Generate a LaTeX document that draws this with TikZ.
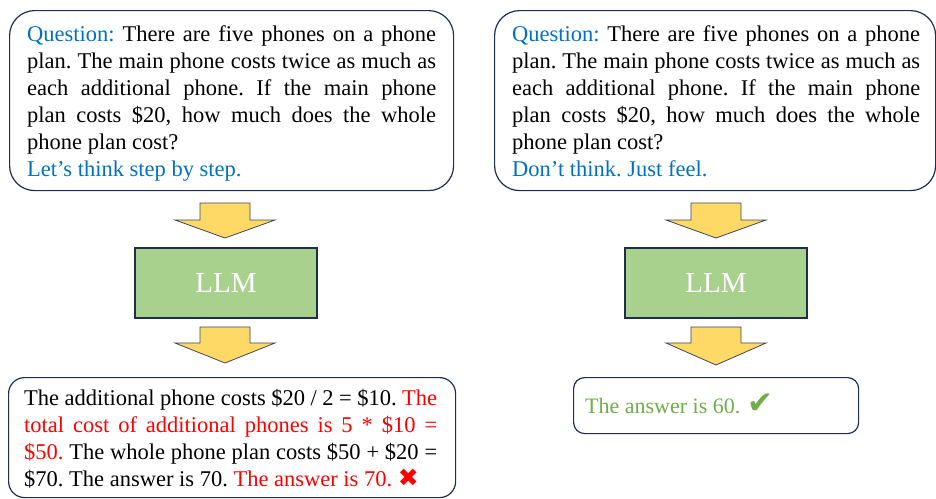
\documentclass[tikz,border=0pt]{standalone}
\usepackage{fontspec}
\setmainfont{Liberation Serif}
\newfontfamily\symfont{DejaVu Sans}
\usetikzlibrary{calc}
\definecolor{qblue}{HTML}{0070C0}
\definecolor{ansred}{HTML}{FF0000}
\definecolor{ansgreen}{HTML}{70AD47}
\definecolor{edge}{HTML}{1F2D4F}
\definecolor{llmfill}{HTML}{A9D18E}
\definecolor{arrfill}{HTML}{FFD966}
\definecolor{arredge}{HTML}{3A4660}
\newcommand\jset{\hyphenpenalty10000 \parindent0pt \frenchspacing}
\begin{document}
\begin{tikzpicture}[x=1pt,y=-1pt,
  roundbox/.style={draw=edge,line width=1.2pt,anchor=north west,inner sep=0pt},
  txt/.style={anchor=north west,inner sep=0pt,text width=#1,align=justify,
    font=\fontsize{22.5}{27}\selectfont\jset},
  llm/.style={draw=edge,fill=llmfill,line width=1.2pt,minimum width=182pt,minimum height=70pt,
    text=white,font=\fontsize{29}{30}\selectfont,inner sep=0pt},
  blockarrow/.style={draw=arredge,fill=arrfill,line width=0.8pt,line join=miter}]
\useasboundingbox (0,0) rectangle (936,498);
% ---------- left column ----------
\node[roundbox,rounded corners=25pt,minimum width=444pt,minimum height=180pt] (q1) at (9,10) {};
\node[txt=409pt] (t1) at (27,25) {\textcolor{qblue}{Question:} There are five phones on a phone\linebreak
plan. The main phone costs twice as much as\linebreak
each additional phone. If the main phone\linebreak
plan costs \$20, how much does the whole\linebreak
phone plan cost?\par
\textcolor{qblue}{Let’s think step by step.}};
\node[llm] (llm1) at (226,283) {LLM};
\node[roundbox,rounded corners=16pt,minimum width=447pt,minimum height=120pt] (a1) at (8,377) {};
\node[txt=413pt] (t2) at (24,389) {The additional phone costs \$20 / 2 = \$10. \textcolor{ansred}{The\linebreak
total cost of additional phones is 5 * \$10 =\linebreak
\$50.} The whole phone plan costs \$50 + \$20 =\linebreak
\$70. The answer is 70. \textcolor{ansred}{The answer is 70. {\symfont\fontsize{25}{20}\selectfont ✖}}};
% arrows left
\draw[blockarrow] (200,203) -- (250,203) -- (250,220) -- (275,220) -- (225,238) -- (175,220) -- (200,220) -- cycle;
\draw[blockarrow] (200,327) -- (250,327) -- (250,343) -- (275,343) -- (225,363) -- (175,343) -- (200,343) -- cycle;
% ---------- right column ----------
\node[roundbox,rounded corners=25pt,minimum width=441pt,minimum height=180pt] (q2) at (494,10) {};
\node[txt=408pt] (t3) at (512,25) {\textcolor{qblue}{Question:} There are five phones on a phone\linebreak
plan. The main phone costs twice as much as\linebreak
each additional phone. If the main phone\linebreak
plan costs \$20, how much does the whole\linebreak
phone plan cost?\par
\textcolor{qblue}{Don’t think. Just feel.}};
\node[llm] (llm2) at (716,283) {LLM};
\node[roundbox,rounded corners=11pt,minimum width=285pt,minimum height=56pt] (a2) at (573,377) {};
\node[anchor=base west,inner sep=0pt,text=ansgreen,font=\fontsize{22}{27}\selectfont] (t4) at (585,413) {The answer is 60. {\symfont\fontsize{31}{22}\selectfont ✔}};
% arrows right
\draw[blockarrow] (691,203) -- (741,203) -- (741,220) -- (766,220) -- (716,238) -- (666,220) -- (691,220) -- cycle;
\draw[blockarrow] (691,327) -- (741,327) -- (741,343) -- (766,343) -- (716,365) -- (666,343) -- (691,343) -- cycle;
\end{tikzpicture}
\end{document}
